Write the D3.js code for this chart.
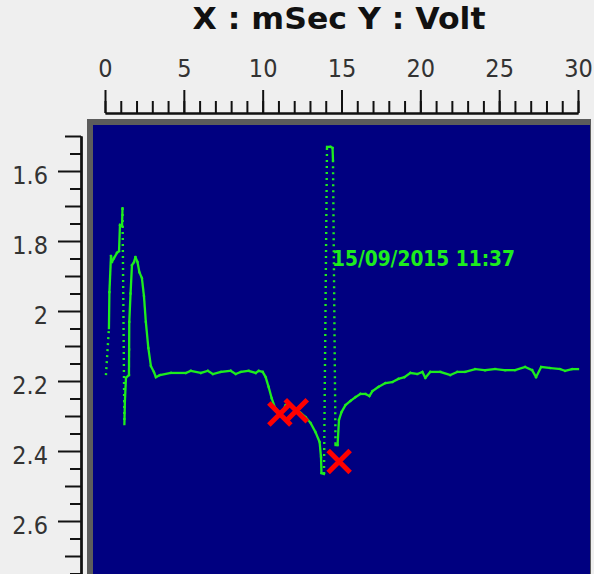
<!DOCTYPE html>
<html>
<head>
<meta charset="utf-8">
<script src="https://cdn.jsdelivr.net/npm/d3@7"></script>
<style>
    html, body { margin: 0; padding: 0; background: #efefef; overflow: hidden; }
    svg { display: block; }
</style>
</head>
<body>
<svg class="chart"></svg>
<script>
// scope trace (x in mSec, y in Volt)
const timeMs = [
    0.06, 0.25, 0.28, 0.38, 0.44, 0.57, 0.76, 0.89, 0.95, 1.08, 1.11,
    1.23, 1.26, 1.33, 1.52, 1.53, 1.54, 1.62, 1.71, 1.84, 1.93, 2.06, 2.18, 2.34, 2.47, 2.59, 2.75, 2.91, 3.10, 3.23, 3.48,
    4.18, 5.13, 5.44, 6.08, 6.52, 6.84, 7.34, 7.97, 8.29, 8.61, 9.11, 9.56, 9.75, 10.0,
    10.19, 10.38, 10.57, 10.76, 11.01, 11.27, 11.46, 11.71, 12.03, 12.41, 12.72, 13.04, 13.35, 13.61, 13.70, 13.73, 13.89,
    14.08, 14.30, 14.43, 14.46,
    14.62, 14.75, 14.84, 15.0, 15.25, 15.57, 15.89, 16.2, 16.52, 16.77, 16.96, 17.34, 17.78, 18.23, 18.61, 18.99, 19.37, 19.81,
    20.13, 20.32, 20.63, 21.27, 21.9, 22.34, 22.85, 23.48, 24.11, 24.75, 25.38, 26.01, 26.65, 27.09, 27.34, 27.66,
    28.23, 28.86, 29.18, 29.62, 30.0
]
const volts = [
    2.183, 2.049, 1.946, 1.843, 1.86, 1.849, 1.834, 1.829, 1.754, 1.757, 1.706,
    2.323, 2.26, 2.191, 2.183, 2.11, 2.031, 1.95, 1.869, 1.86, 1.846, 1.86, 1.889, 1.906, 1.957, 2.031, 2.106, 2.157, 2.174, 2.189, 2.183,
    2.177, 2.177, 2.171, 2.177, 2.171, 2.18, 2.174, 2.171, 2.18, 2.174, 2.171, 2.177, 2.171, 2.174,
    2.189, 2.217, 2.249, 2.274, 2.289, 2.286, 2.269, 2.269, 2.28, 2.291, 2.303, 2.32, 2.346, 2.374, 2.417, 2.463, 2.466,
    1.531, 1.531, 1.534, 1.569,
    2.383, 2.383, 2.311, 2.289, 2.269, 2.257, 2.246, 2.237, 2.237, 2.243, 2.229, 2.217, 2.206, 2.203, 2.194, 2.189, 2.177, 2.18,
    2.174, 2.191, 2.174, 2.174, 2.183, 2.174, 2.174, 2.166, 2.169, 2.166, 2.169, 2.169, 2.16, 2.169, 2.189, 2.16,
    2.163, 2.166, 2.171, 2.166, 2.166
]

// red cursor marks
const markerMs = [11.09, 12.13, 14.85]
const markerVolts = [2.294, 2.285, 2.43]

const xMajorTicks = [0, 5, 10, 15, 20, 25, 30]
const yMajorTicks = [1.6, 1.8, 2.0, 2.2, 2.4, 2.6]

const titleText = "X : mSec Y : Volt"
const stampText = "15/09/2015 11:37"

const svg = d3.select("svg.chart")
    .attr("width", 594)
    .attr("height", 574)
    .attr("viewBox", "0 0 594 574")

// scales, the volt axis runs downwards
const scaleX = d3.scaleLinear()
    .domain([0, 30])
    .range([105, 578])

const scaleY = d3.scaleLinear()
    .domain([1.5, 2.8])
    .range([136, 591])

// title
svg.append("text")
    .attr("x", 339)
    .attr("y", 28.5)
    .attr("text-anchor", "middle")
    .attr("font-family", "DejaVu Sans")
    .attr("font-weight", "bold")
    .attr("font-size", "29.5px")
    .attr("textLength", 293)
    .attr("lengthAdjust", "spacingAndGlyphs")
    .attr("fill", "#111")
    .text(titleText)

// plot frame
svg.append("rect")
    .attr("x", 87)
    .attr("y", 119)
    .attr("width", 504)
    .attr("height", 480)
    .attr("fill", "#5c5c5c")

svg.append("rect")
    .attr("x", 93)
    .attr("y", 125)
    .attr("width", 497)
    .attr("height", 470)
    .attr("fill", "#000080")

svg.append("clipPath")
    .attr("id", "plotClip")
    .append("rect")
    .attr("x", 93)
    .attr("y", 125)
    .attr("width", 497)
    .attr("height", 470)

// x axis on top
const axisXMinor = d3.axisTop(scaleX)
    .tickValues(d3.range(0, 31, 1))
    .tickSize(12)
    .tickSizeOuter(0)
    .tickFormat("")

const axisXMajor = d3.axisTop(scaleX)
    .tickValues(xMajorTicks)
    .tickSize(23)
    .tickSizeOuter(0)
    .tickPadding(13)

const axisXGroupMinor = svg.append("g")
    .attr("transform", "translate(0, 113)")
    .call(axisXMinor)

const axisXGroup = svg.append("g")
    .attr("transform", "translate(0, 113)")
    .call(axisXMajor)

// y axis on the left, minor ticks at 0.05, a medium one at each 0.1
const axisYShort = d3.axisLeft(scaleY)
    .tickValues(d3.range(0, 26).map(i => 1.55 + i * 0.1))
    .tickSize(11)
    .tickSizeOuter(0)
    .tickFormat("")

const axisYMedium = d3.axisLeft(scaleY)
    .tickValues(d3.range(0, 14).map(i => 1.5 + i * 0.2))
    .tickSize(16)
    .tickSizeOuter(0)
    .tickFormat("")

const axisYMajor = d3.axisLeft(scaleY)
    .tickValues(yMajorTicks.concat([2.8]))
    .tickSize(23)
    .tickSizeOuter(0)
    .tickPadding(10)
    .tickFormat(d => yMajorTicks.includes(d) ? String(+d.toFixed(1)) : "")

const axisYGroups = [axisYShort, axisYMedium, axisYMajor].map(ax => svg.append("g")
    .attr("transform", "translate(81, 0)")
    .call(ax))

const axisGroups = [axisXGroupMinor, axisXGroup].concat(axisYGroups)
axisGroups.forEach(g => {
    g.selectAll("path.domain").attr("stroke", "#111").attr("stroke-width", 2)
    g.selectAll(".tick line").attr("stroke", "#111").attr("stroke-width", 2)
    g.selectAll(".tick text")
        .attr("font-family", "DejaVu Sans Condensed")
        .attr("font-size", "25px")
        .attr("fill", "#333")
})
axisYGroups[2].selectAll(".tick text").attr("dy", "0.5em")

// trace, steep jumps are drawn dotted like on the scope
const plot = svg.append("g")
    .attr("clip-path", "url(#plotClip)")

const trace = timeMs.map((t, i) => ({ t: t, v: volts[i] }))
const segments = d3.pairs(trace).map(([a, b]) => ({
    a: a,
    b: b,
    dotted: Math.abs(scaleY(b.v) - scaleY(a.v)) > 42
}))

const green = "#1eec1e"

plot.selectAll("line.trace")
    .data(segments)
    .enter()
    .append("line")
    .attr("class", "trace")
    .attr("x1", d => scaleX(d.a.t))
    .attr("y1", d => scaleY(d.a.v))
    .attr("x2", d => scaleX(d.b.t))
    .attr("y2", d => scaleY(d.b.v))
    .attr("stroke", green)
    .attr("stroke-width", d => d.dotted ? 2.4 : 2.3)
    .attr("stroke-dasharray", d => d.dotted ? "2,4" : null)
    .attr("stroke-linecap", d => d.dotted ? "butt" : "square")

// red X markers
const markers = plot.selectAll("g.marker")
    .data(markerMs.map((t, i) => ({ t: t, v: markerVolts[i] })))
    .enter()
    .append("g")
    .attr("class", "marker")
    .attr("transform", d => `translate(${scaleX(d.t)}, ${scaleY(d.v)})`)

markers.append("path")
    .attr("d", "M-11,-11L11,11M-11,11L11,-11")
    .attr("stroke", "#ff0000")
    .attr("stroke-width", 5)
    .attr("fill", "none")

// time stamp
plot.append("text")
    .attr("x", 332)
    .attr("y", 266)
    .attr("font-family", "DejaVu Sans Condensed")
    .attr("font-weight", "bold")
    .attr("font-size", "22px")
    .attr("textLength", 183)
    .attr("lengthAdjust", "spacingAndGlyphs")
    .attr("fill", green)
    .text(stampText)
</script>
</body>
</html>
